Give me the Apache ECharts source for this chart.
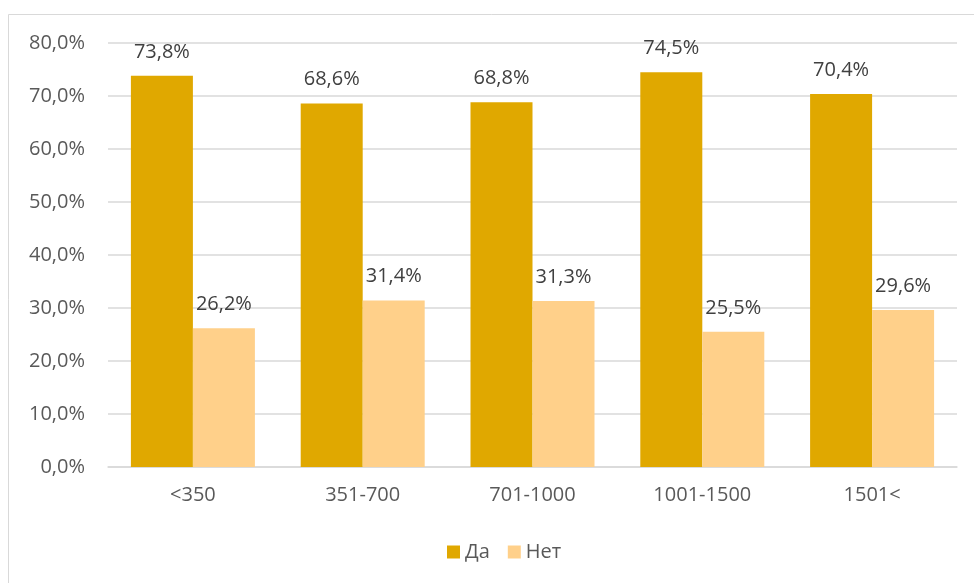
<!DOCTYPE html>
<html>
<head>
<meta charset="utf-8">
<script src="https://cdn.jsdelivr.net/npm/echarts@6/dist/echarts.min.js"></script>
<style>
html,body{margin:0;padding:0;background:#fff;}
#chart{width:974px;height:583px;}
</style>
</head>
<body>
<div id="chart"></div>
<script>
// Income groups and survey shares (%)
const categories = ['<350', '351-700', '701-1000', '1001-1500', '1501<'];
const yesValues = [73.8, 68.6, 68.8, 74.5, 70.4];
const noValues = [26.2, 31.4, 31.3, 25.5, 29.6];
const seriesNames = ['Да', 'Нет'];

const fontFamily = '"Open Sans", "Noto Sans", sans-serif';
const fmt = v => v.toFixed(1).replace('.', ',') + '%';

const chart = echarts.init(document.getElementById('chart'), null, { renderer: 'canvas' });

const labelStyle = {
  show: true,
  position: 'top',
  distance: 14,
  color: '#404040',
  fontSize: 20,
  fontFamily: fontFamily,
  formatter: p => fmt(p.value)
};

chart.setOption({
  animation: false,
  backgroundColor: '#fff',
  graphic: [{
    type: 'rect',
    shape: { x: 8.5, y: 14.5, width: 980, height: 600 },
    style: { fill: 'none', stroke: '#d9d9d9', lineWidth: 1 },
    silent: true,
    z: -1
  }],
  grid: { left: 108, right: 17, top: 43, bottom: 116, containLabel: false },
  legend: {
    data: seriesNames,
    bottom: 16,
    left: 442,
    itemWidth: 13,
    itemHeight: 13,
    itemGap: 18,
    icon: 'rect',
    textStyle: { color: '#595959', fontSize: 20, fontFamily: fontFamily }
  },
  xAxis: {
    type: 'category',
    data: categories,
    axisLine: { lineStyle: { color: '#d9d9d9', width: 1.5 } },
    axisTick: { show: false },
    axisLabel: { color: '#595959', fontSize: 20, fontFamily: fontFamily, margin: 18 }
  },
  yAxis: {
    type: 'value',
    min: 0,
    max: 80,
    interval: 10,
    axisLine: { show: false },
    axisTick: { show: false },
    splitLine: { lineStyle: { color: '#d9d9d9', width: 1.5 } },
    axisLabel: { color: '#595959', fontSize: 20, fontFamily: fontFamily, margin: 23, formatter: v => fmt(v) }
  },
  series: [
    {
      name: seriesNames[0],
      type: 'bar',
      data: yesValues,
      barWidth: 62,
      barGap: '0%',
      itemStyle: { color: '#E0A800' },
      label: labelStyle
    },
    {
      name: seriesNames[1],
      type: 'bar',
      data: noValues,
      barWidth: 62,
      barGap: '0%',
      itemStyle: { color: '#FFD08A' },
      label: labelStyle
    }
  ]
});
</script>
</body>
</html>
